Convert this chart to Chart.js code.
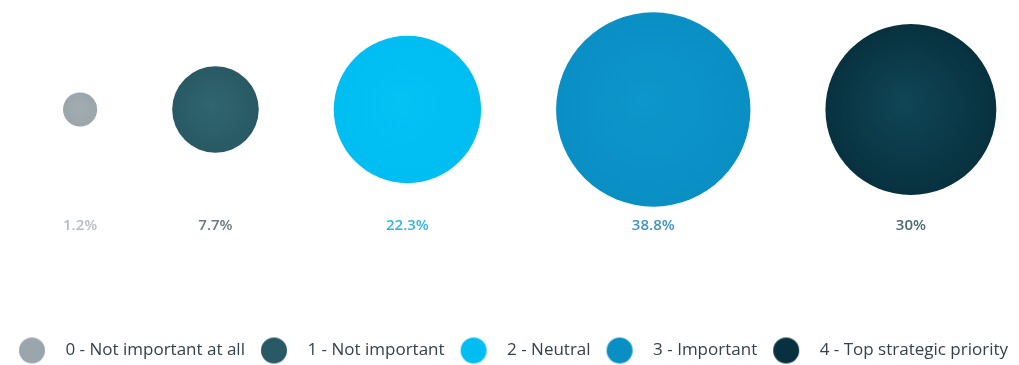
<!DOCTYPE html>
<html>
<head>
<meta charset="utf-8">
<script src="https://cdn.jsdelivr.net/npm/chart.js@4/dist/chart.umd.min.js"></script>
<style>
    html, body { margin: 0; padding: 0; background: #fff; }
    #wrap { width: 1019px; height: 365px; }
</style>
</head>
<body>
<div id="wrap"><canvas id="priorityChart"></canvas></div>
<script>
var categories = ['0 - Not important at all', '1 - Not important', '2 - Neutral', '3 - Important', '4 - Top strategic priority'];
var shares = [1.2, 7.7, 22.3, 38.8, 30];
var shareLabels = ['1.2%', '7.7%', '22.3%', '38.8%', '30%'];
var bubbleColors = ['#9ba6ac', '#285964', '#00bdf2', '#0a8fc5', '#08313f'];
var bubbleCenters = ['#a2adb2', '#30666f', '#05c2f5', '#0d96cb', '#0f4656'];
var labelColors = ['#b7bec3', '#6e7a81', '#37b3de', '#4295bd', '#4b6a71'];

// bubble area follows the share, bubbles packed left to right with an even gap
var radii = shares.map(function (v) { return 15.6 * Math.sqrt(v); });
var gap = 75;
var xs = [];
radii.forEach(function (r, i) {
    xs.push(i === 0 ? 63 + r : xs[i - 1] + radii[i - 1] + gap + r);
});

function dot(color) {
    var c = document.createElement('canvas');
    c.width = 34;
    c.height = 28;
    var g = c.getContext('2d');
    g.fillStyle = color;
    g.beginPath();
    g.arc(15, 14, 13, 0, Math.PI * 2);
    g.fill();
    return c;
}
var dots = bubbleColors.map(dot);

function bubbleFill(context) {
    var i = context.datasetIndex;
    var chart = context.chart;
    if (!chart.chartArea || !context.raw) return bubbleColors[i];
    var x = chart.scales.x.getPixelForValue(context.raw.x);
    var y = chart.scales.y.getPixelForValue(context.raw.y);
    var r = context.raw.r;
    var grad = chart.ctx.createRadialGradient(x - r * 0.1, y - r * 0.1, 0, x, y, r);
    grad.addColorStop(0, bubbleCenters[i]);
    grad.addColorStop(1, bubbleColors[i]);
    return grad;
}

var shareLabelPlugin = {
    id: 'shareLabels',
    afterDatasetsDraw: function (chart) {
        var ctx = chart.ctx;
        ctx.save();
        ctx.font = '600 15px "Open Sans"';
        ctx.textAlign = 'center';
        ctx.textBaseline = 'middle';
        chart.data.datasets.forEach(function (ds, i) {
            var el = chart.getDatasetMeta(i).data[0];
            ctx.fillStyle = labelColors[i];
            ctx.fillText(shareLabels[i], el.x, el.y + 116);
        });
        ctx.restore();
    }
};

var ctx = document.getElementById('priorityChart').getContext('2d');
var priorityChart = new Chart(ctx, {
    type: 'bubble',
    data: {
        datasets: categories.map(function (name, i) {
            return {
                label: name,
                data: [{ x: xs[i], y: 0, r: radii[i] }],
                backgroundColor: bubbleFill,
                borderWidth: 0,
                clip: false
            };
        })
    },
    options: {
        responsive: true,
        maintainAspectRatio: false,
        animation: false,
        events: [],
        layout: { autoPadding: false, padding: { top: 0, left: 0, right: 0, bottom: -4 } },
        scales: {
            x: { display: false, min: 0, max: 1019 },
            y: { display: false, min: -2.05, max: 1 }
        },
        plugins: {
            tooltip: { enabled: false },
            legend: {
                position: 'bottom',
                labels: {
                    usePointStyle: true,
                    pointStyleWidth: 46,
                    padding: 8,
                    color: '#34424a',
                    font: { family: 'Open Sans', size: 17 },
                    generateLabels: function (chart) {
                        return chart.data.datasets.map(function (ds, i) {
                            return {
                                text: ds.label,
                                pointStyle: dots[i],
                                fillStyle: bubbleColors[i],
                                lineWidth: 0,
                                hidden: false,
                                datasetIndex: i,
                                fontColor: '#34424a'
                            };
                        });
                    }
                }
            }
        }
    },
    plugins: [shareLabelPlugin]
});
</script>
</body>
</html>
